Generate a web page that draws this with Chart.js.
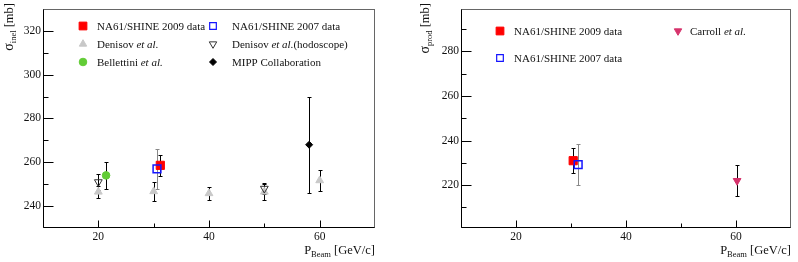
<!DOCTYPE html>
<html>
<head>
<meta charset="utf-8">
<script src="https://cdn.jsdelivr.net/npm/chart.js@4"></script>
<style>
  body { margin: 0; background: #fff; width: 798px; height: 262px; overflow: hidden; position: relative; }
  canvas { position: absolute; top: 0; }
</style>
</head>
<body>
<canvas id="inelChart" width="400" height="262" style="left:0"></canvas>
<canvas id="prodChart" width="398" height="262" style="left:400px"></canvas>
<script>
// x axis (beam momentum, GeV/c), same on both panels
const xMajor = [20, 40, 60];
const xMinor = [30, 50];

// left panel: inelastic cross section [mb]
const inelTicks = [240, 260, 280, 300, 320];
const inelMinor = [250, 270, 290, 310];

const na09InelX = [31.2], na09InelY = [258.6], na09InelErr = [4.8];
const na07InelX = [30.6], na07InelY = [257.0], na07InelErr = [9.0];
const denisovX = [20, 30, 40, 50, 60];
const denisovY = [246.5, 246.7, 245.8, 246.5, 251.7];
const denisovErr = [2.7, 4.2, 3.0, 3.5, 5.0];
const hodoX = [20, 50], hodoY = [251.0, 248.0], hodoErr = [3.5, 2.5];
const bellettiniX = [21.4], bellettiniY = [254.0], bellettiniErr = [6.1];
const mippX = [58.1], mippY = [268.0], mippErr = [22.0];

// right panel: production cross section [mb]
const prodTicks = [220, 240, 260, 280];
const prodMinor = [210, 230, 250, 270, 290];

const na09ProdX = [30.4], na09ProdY = [231.0], na09ProdErr = [5.6];
const na07ProdX = [31.3], na07ProdY = [229.2], na07ProdErr = [9.3];
const carrollX = [60.2], carrollY = [222.0], carrollErr = [7.0];

const FONT = 'Liberation Serif';
const TXT = '#111';
const LS = 11; // legend text size

function pts(xs, ys) {
  return xs.map((x, i) => ({ x: x, y: ys[i] }));
}

function series(xs, ys, errs, style) {
  return Object.assign({
    data: pts(xs, ys),
    errors: errs,
    errColor: '#000',
    pointBorderWidth: 1,
    pointRotation: 0,
    showLine: false
  }, style);
}

function drawRich(ctx, parts, x, y) {
  let cx = x;
  parts.forEach(p => {
    ctx.font = (p.it ? 'italic ' : '') + p.size + 'px "' + FONT + '"';
    ctx.fillText(p.t, cx, y + (p.dy || 0));
    cx += ctx.measureText(p.t).width;
  });
  return cx - x;
}

function richWidth(ctx, parts) {
  let w = 0;
  parts.forEach(p => {
    ctx.font = (p.it ? 'italic ' : '') + p.size + 'px "' + FONT + '"';
    w += ctx.measureText(p.t).width;
  });
  return w;
}

function panelPlugin(cfg) {
  return {
    id: 'panel',
    beforeDatasetsDraw(chart) {
      const ctx = chart.ctx, xs = chart.scales.x, ys = chart.scales.y;
      ctx.save();
      ctx.lineWidth = 1;
      chart.data.datasets.forEach(ds => {
        ctx.strokeStyle = ds.errColor;
        ds.data.forEach((p, i) => {
          const px = Math.round(xs.getPixelForValue(p.x)) + 0.5;
          const top = Math.round(ys.getPixelForValue(p.y + ds.errors[i])) + 0.5;
          const bot = Math.round(ys.getPixelForValue(p.y - ds.errors[i])) + 0.5;
          ctx.beginPath();
          ctx.moveTo(px, top); ctx.lineTo(px, bot);
          ctx.moveTo(px - 2, top); ctx.lineTo(px + 2, top);
          ctx.moveTo(px - 2, bot); ctx.lineTo(px + 2, bot);
          ctx.stroke();
        });
      });
      ctx.restore();
    },
    afterDraw(chart) {
      const ctx = chart.ctx, a = chart.chartArea;
      const xs = chart.scales.x, ys = chart.scales.y;
      const L = Math.round(a.left) + 0.5, R = Math.round(a.right) - 0.5;
      const T = Math.round(a.top) + 0.5, B = Math.round(a.bottom) - 0.5;
      ctx.save();
      // frame
      ctx.lineWidth = 1;
      ctx.strokeStyle = '#666';
      ctx.strokeRect(L, T, R - L, B - T);
      ctx.strokeStyle = '#000';
      ctx.beginPath();
      ctx.moveTo(L, T); ctx.lineTo(L, B); ctx.lineTo(R, B);
      ctx.stroke();
      // inward ticks
      ctx.beginPath();
      xMajor.forEach(v => { const p = Math.round(xs.getPixelForValue(v)) + 0.5; ctx.moveTo(p, B); ctx.lineTo(p, B - 7); });
      xMinor.forEach(v => { const p = Math.round(xs.getPixelForValue(v)) + 0.5; ctx.moveTo(p, B); ctx.lineTo(p, B - 4); });
      cfg.yMajor.forEach(v => { const p = Math.round(ys.getPixelForValue(v)) + 0.5; ctx.moveTo(L, p); ctx.lineTo(L + 10, p); });
      cfg.yMinor.forEach(v => { const p = Math.round(ys.getPixelForValue(v)) + 0.5; ctx.moveTo(L, p); ctx.lineTo(L + 5, p); });
      ctx.stroke();

      ctx.fillStyle = TXT;
      ctx.textBaseline = 'alphabetic';
      ctx.textAlign = 'left';
      // x title, right aligned under the axis
      const xt = [{ t: 'P', size: 12.5 }, { t: 'Beam', size: 8.5, dy: 3 }, { t: ' [GeV/c]', size: 12.5 }];
      drawRich(ctx, xt, a.right - richWidth(ctx, xt), 254);
      // y title, rotated, ending at the top
      const yt = [{ t: 'σ', size: 14 }, { t: cfg.ySub, size: 8.5, dy: 3 }, { t: ' [mb]', size: 12.5 }];
      ctx.save();
      ctx.translate(cfg.yTitleX, 3);
      ctx.rotate(-Math.PI / 2);
      drawRich(ctx, yt, -richWidth(ctx, yt), 0);
      ctx.restore();

      // legend
      cfg.legend.forEach(it => {
        ctx.save();
        ctx.fillStyle = it.fill;
        ctx.strokeStyle = it.stroke;
        ctx.lineWidth = it.bw;
        Chart.helpers.drawPoint(ctx, { pointStyle: it.style, radius: it.r, rotation: it.rot || 0, borderWidth: it.bw }, it.mx, it.y);
        ctx.restore();
        ctx.fillStyle = TXT;
        drawRich(ctx, it.text, it.tx, it.y + 4);
      });
      ctx.restore();
    }
  };
}

function makePanel(id, datasets, yMin, yMax, cfg, rightPad) {
  return new Chart(document.getElementById(id), {
    type: 'scatter',
    data: { datasets: datasets },
    options: {
      responsive: false,
      animation: false,
      events: [],
      layout: { padding: { left: 0, right: rightPad, top: 3, bottom: 0 } },
      plugins: { legend: { display: false }, tooltip: { enabled: false } },
      scales: {
        x: {
          type: 'linear', min: 10, max: 70,
          afterBuildTicks: s => { s.ticks = xMajor.map(v => ({ value: v })); },
          afterFit: s => { s.height = 34; },
          grid: { display: false, drawTicks: false },
          border: { display: false },
          ticks: { autoSkip: false, maxRotation: 0, padding: 2, color: TXT, font: { family: FONT, size: 11.5 } }
        },
        y: {
          type: 'linear', min: yMin, max: yMax,
          afterBuildTicks: s => { s.ticks = cfg.yMajor.map(v => ({ value: v })); },
          afterFit: s => { s.width = cfg.yWidth; },
          grid: { display: false, drawTicks: false },
          border: { display: false },
          ticks: { autoSkip: false, padding: 2, color: TXT, font: { family: FONT, size: 11.5 } }
        }
      }
    },
    plugins: [panelPlugin(cfg)]
  });
}

const etal = { t: 'et al.', size: LS, it: true };

makePanel('inelChart', [
  series(na07InelX, na07InelY, na07InelErr, { pointStyle: 'rect', pointRadius: 5.5, backgroundColor: 'rgba(0,0,0,0)', borderColor: '#1515ff', pointBorderWidth: 1.5, errColor: '#888' }),
  series(na09InelX, na09InelY, na09InelErr, { pointStyle: 'rect', pointRadius: 5.8, backgroundColor: '#ff0000', borderColor: '#ff0000' }),
  series(mippX, mippY, mippErr, { pointStyle: 'rectRot', pointRadius: 3.5, backgroundColor: '#000', borderColor: '#000' }),
  series(bellettiniX, bellettiniY, bellettiniErr, { pointStyle: 'circle', pointRadius: 3.8, backgroundColor: '#62cc36', borderColor: '#62cc36' }),
  series(hodoX, hodoY, hodoErr, { pointStyle: 'triangle', pointRotation: 180, pointRadius: 4.5, backgroundColor: 'rgba(0,0,0,0)', borderColor: '#333' }),
  series(denisovX, denisovY, denisovErr, { pointStyle: 'triangle', pointRadius: 4.5, backgroundColor: '#c8c8c8', borderColor: '#c8c8c8' })
], 230, 330, {
  yMajor: inelTicks, yMinor: inelMinor, ySub: 'inel', yTitleX: 13, yWidth: 43,
  legend: [
    { style: 'rect', r: 5.5, fill: '#ff0000', stroke: '#ff0000', bw: 1, mx: 83, tx: 97, y: 26, text: [{ t: 'NA61/SHINE 2009 data', size: LS }] },
    { style: 'triangle', r: 4.3, fill: '#c8c8c8', stroke: '#c8c8c8', bw: 1, mx: 83, tx: 97, y: 44, text: [{ t: 'Denisov ', size: LS }, etal] },
    { style: 'circle', r: 3.8, fill: '#62cc36', stroke: '#62cc36', bw: 1, mx: 83, tx: 97, y: 62, text: [{ t: 'Bellettini ', size: LS }, etal] },
    { style: 'rect', r: 4.7, fill: 'rgba(0,0,0,0)', stroke: '#1515ff', bw: 1.2, mx: 213, tx: 232, y: 26, text: [{ t: 'NA61/SHINE 2007 data', size: LS }] },
    { style: 'triangle', rot: 180, r: 4.3, fill: 'rgba(0,0,0,0)', stroke: '#333', bw: 1, mx: 213, tx: 232, y: 44, text: [{ t: 'Denisov ', size: LS }, etal, { t: '(hodoscope)', size: LS }] },
    { style: 'rectRot', r: 3.5, fill: '#000', stroke: '#000', bw: 1, mx: 213, tx: 232, y: 62, text: [{ t: 'MIPP Collaboration', size: LS }] }
  ]
}, 25);

makePanel('prodChart', [
  series(na07ProdX, na07ProdY, na07ProdErr, { pointStyle: 'rect', pointRadius: 5.5, backgroundColor: 'rgba(0,0,0,0)', borderColor: '#1515ff', pointBorderWidth: 1.5, errColor: '#888' }),
  series(na09ProdX, na09ProdY, na09ProdErr, { pointStyle: 'rect', pointRadius: 5.8, backgroundColor: '#ff0000', borderColor: '#ff0000' }),
  series(carrollX, carrollY, carrollErr, { pointStyle: 'triangle', pointRotation: 180, pointRadius: 4.5, backgroundColor: '#d6336c', borderColor: '#d6336c' })
], 200.8, 299.1, {
  yMajor: prodTicks, yMinor: prodMinor, ySub: 'prod', yTitleX: 29, yWidth: 61,
  legend: [
    { style: 'rect', r: 5.5, fill: '#ff0000', stroke: '#ff0000', bw: 1, mx: 100, tx: 114, y: 31, text: [{ t: 'NA61/SHINE 2009 data', size: LS }] },
    { style: 'rect', r: 4.7, fill: 'rgba(0,0,0,0)', stroke: '#1515ff', bw: 1.2, mx: 100, tx: 114, y: 58, text: [{ t: 'NA61/SHINE 2007 data', size: LS }] },
    { style: 'triangle', rot: 180, r: 4.3, fill: '#d6336c', stroke: '#d6336c', bw: 1, mx: 278, tx: 290, y: 31, text: [{ t: 'Carroll ', size: LS }, etal] }
  ]
}, 6);
</script>
</body>
</html>
